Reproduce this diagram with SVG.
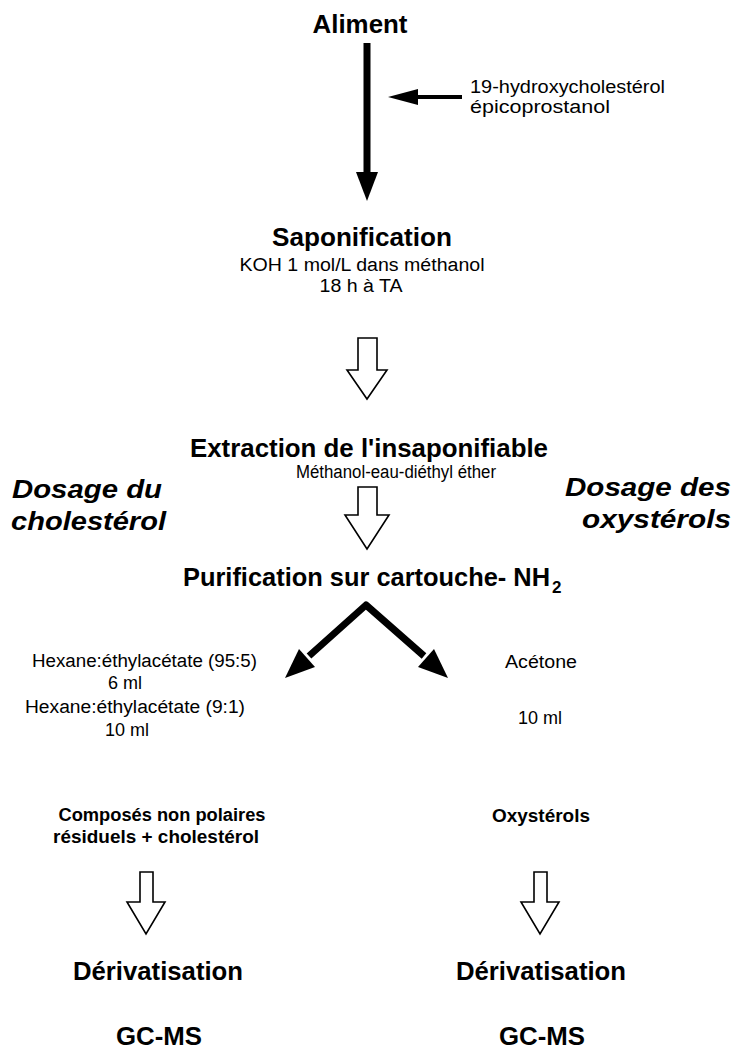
<svg xmlns="http://www.w3.org/2000/svg" width="736" height="1051" viewBox="0 0 736 1051">
<defs>
<style>
text{font-family:"Liberation Sans",Arial,sans-serif;fill:#000}
.h{font-size:25px;font-weight:bold;text-anchor:middle}
.s{font-size:18px;text-anchor:middle}
.sl{font-size:18px}
.b{font-size:18px;font-weight:bold;text-anchor:middle}
.side{font-size:26px;font-weight:bold;font-style:italic}
.hollow{fill:#fff;stroke:#000;stroke-width:1.6;stroke-linejoin:miter}
.thick{stroke:#000;fill:none}
</style>
</defs>
<rect width="736" height="1051" fill="#fff"/>
<g id="aliment"><text class="h" x="360" y="33" textLength="95" lengthAdjust="spacingAndGlyphs">Aliment</text></g>
<g id="standards"><text class="sl" x="470" y="93" textLength="195" lengthAdjust="spacingAndGlyphs">19-hydroxycholestérol</text><text class="sl" x="470" y="113" textLength="140" lengthAdjust="spacingAndGlyphs">épicoprostanol</text></g>
<g id="saponification"><text class="h" x="362" y="246" textLength="180" lengthAdjust="spacingAndGlyphs">Saponification</text><text class="s" x="362" y="271" textLength="245" lengthAdjust="spacingAndGlyphs">KOH 1 mol/L dans méthanol</text><text class="s" x="361" y="292" textLength="83" lengthAdjust="spacingAndGlyphs">18 h à TA</text></g>
<g id="extraction"><text class="h" x="369" y="457" textLength="358" lengthAdjust="spacingAndGlyphs">Extraction de l'insaponifiable</text><text class="s" x="396" y="478" textLength="200" lengthAdjust="spacingAndGlyphs">Méthanol-eau-diéthyl éther</text></g>
<g id="dosage-chol"><text class="side" x="12" y="498" textLength="150" lengthAdjust="spacingAndGlyphs">Dosage du</text><text class="side" x="11" y="530" textLength="155" lengthAdjust="spacingAndGlyphs">cholestérol</text></g>
<g id="dosage-oxy"><text class="side" x="565" y="496" textLength="166" lengthAdjust="spacingAndGlyphs">Dosage des</text><text class="side" x="582" y="528" textLength="149" lengthAdjust="spacingAndGlyphs">oxystérols</text></g>
<g id="purification"><text class="h" x="183" y="586" style="text-anchor:start" textLength="367" lengthAdjust="spacingAndGlyphs">Purification sur cartouche- NH</text><text x="552" y="593" style="font-size:17px;font-weight:bold">2</text></g>
<g id="elution-left"><text class="sl" x="32" y="667" textLength="225" lengthAdjust="spacingAndGlyphs">Hexane:éthylacétate (95:5)</text><text class="s" x="125" y="689">6 ml</text><text class="sl" x="25" y="713" textLength="220" lengthAdjust="spacingAndGlyphs">Hexane:éthylacétate (9:1)</text><text class="s" x="127" y="736">10 ml</text></g>
<g id="elution-right"><text class="s" x="541" y="668" textLength="72" lengthAdjust="spacingAndGlyphs">Acétone</text><text class="s" x="540" y="724">10 ml</text></g>
<g id="fraction-left"><text class="b" x="162" y="821" textLength="207" lengthAdjust="spacingAndGlyphs">Composés non polaires</text><text class="b" x="156" y="843" textLength="206" lengthAdjust="spacingAndGlyphs">résiduels + cholestérol</text></g>
<g id="fraction-right"><text class="b" x="541" y="822" textLength="98" lengthAdjust="spacingAndGlyphs">Oxystérols</text></g>
<g id="deriv-left"><text class="h" x="158" y="980" textLength="170" lengthAdjust="spacingAndGlyphs">Dérivatisation</text></g>
<g id="deriv-right"><text class="h" x="541" y="980" textLength="170" lengthAdjust="spacingAndGlyphs">Dérivatisation</text></g>
<g id="gcms-left"><text class="h" x="159" y="1045" textLength="86" lengthAdjust="spacingAndGlyphs">GC-MS</text></g>
<g id="gcms-right"><text class="h" x="542" y="1045" textLength="86" lengthAdjust="spacingAndGlyphs">GC-MS</text></g>
<g id="connectors">
<line class="thick" x1="367" y1="43" x2="367" y2="176" stroke-width="7"/>
<polygon points="356,172 378,172 367,201"/>
<line class="thick" x1="462" y1="97" x2="412" y2="97" stroke-width="4"/>
<polygon points="388,97 418,89 418,105"/>
<polygon class="hollow" points="358,338 377,338 377,370 387,370 367,399 347,370 358,370"/>
<polygon class="hollow" points="358,487 377,487 377,515 389,515 367,549 345,515 358,515"/>
<polyline class="thick" points="309,656 366,605 424,656" stroke-width="7" stroke-linejoin="round"/>
<polygon points="285,678 299,649 315,667"/>
<polygon points="448,678 418,667 434,649"/>
<polygon class="hollow" points="140,872 153,872 153,902 165,902 146,934 127,902 140,902"/>
<polygon class="hollow" points="534,872 547,872 547,902 559,902 540,934 521,902 534,902"/>
</g>
</svg>
